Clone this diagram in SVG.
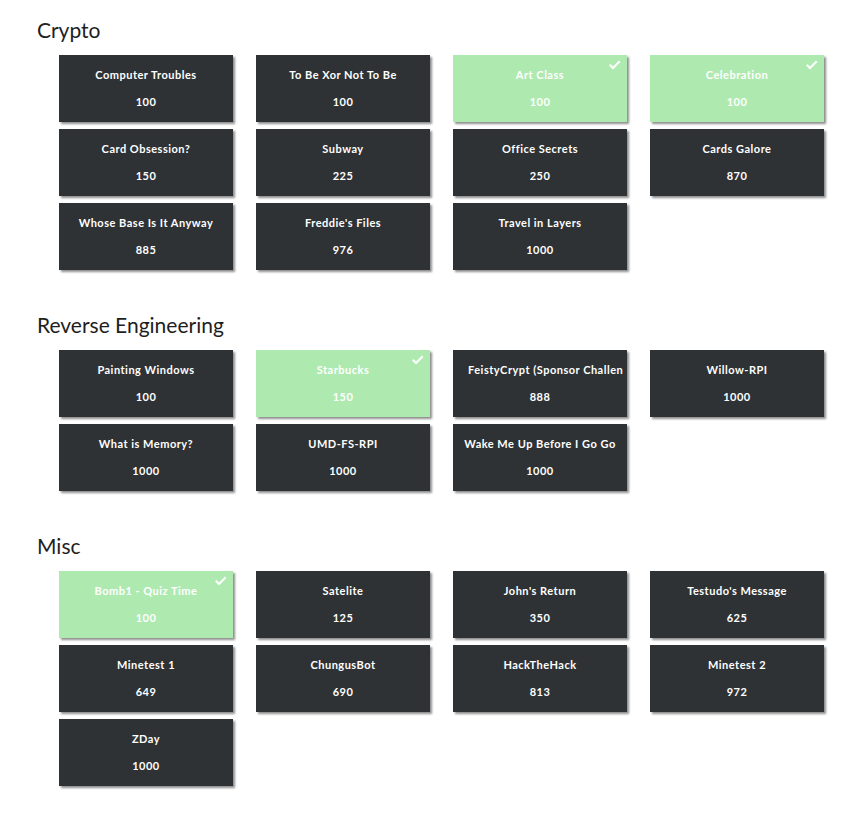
<svg xmlns="http://www.w3.org/2000/svg" width="863" height="815" viewBox="0 0 863 815">
<style>
.h{font-family:Lato,"Noto Sans","Liberation Sans",sans-serif;font-size:21px;fill:#1e1e1e;}
.t{font-family:Lato,"Noto Sans","Liberation Sans",sans-serif;font-weight:bold;font-size:11px;letter-spacing:0.5px;fill:#fff;text-anchor:middle;}
.tl{font-family:Lato,"Noto Sans","Liberation Sans",sans-serif;font-weight:bold;font-size:11px;letter-spacing:0.5px;fill:#fff;}
.d{fill:#2f3336;filter:url(#sh);}
.g{fill:#aeeab0;filter:url(#sh);}
.ck{fill:none;stroke:#fff;stroke-width:2;stroke-linecap:square;}
</style>
<defs>
<filter id="sh" x="-10%" y="-10%" width="125%" height="130%">
<feGaussianBlur in="SourceAlpha" stdDeviation="1.2"/>
<feOffset dx="2" dy="2" result="b"/>
<feComponentTransfer><feFuncA type="linear" slope="0.45"/></feComponentTransfer>
<feMerge><feMergeNode/><feMergeNode in="SourceGraphic"/></feMerge>
</filter>
<clipPath id="clipF"><rect x="453" y="350" width="174" height="67"/></clipPath>
</defs>
<rect width="863" height="815" fill="#fff"/>
<g id="connectors"></g>

<text class="h" x="37" y="38">Crypto</text>
<g id="c1"><rect class="d" x="59" y="55" width="174" height="67"/><text class="t" x="146" y="79">Computer Troubles</text><text class="t" x="146" y="106">100</text></g>
<g id="c2"><rect class="d" x="256" y="55" width="174" height="67"/><text class="t" x="343" y="79">To Be Xor Not To Be</text><text class="t" x="343" y="106">100</text></g>
<g id="c3"><rect class="g" x="453" y="55" width="174" height="67"/><text class="t" x="540" y="79">Art Class</text><text class="t" x="540" y="106">100</text><path class="ck" d="M610.5 65.5 L613 68 L619 62"/></g>
<g id="c4"><rect class="g" x="650" y="55" width="174" height="67"/><text class="t" x="737" y="79">Celebration</text><text class="t" x="737" y="106">100</text><path class="ck" d="M807.5 65.5 L810 68 L816 62"/></g>
<g id="c5"><rect class="d" x="59" y="129" width="174" height="67"/><text class="t" x="146" y="153">Card Obsession?</text><text class="t" x="146" y="180">150</text></g>
<g id="c6"><rect class="d" x="256" y="129" width="174" height="67"/><text class="t" x="343" y="153">Subway</text><text class="t" x="343" y="180">225</text></g>
<g id="c7"><rect class="d" x="453" y="129" width="174" height="67"/><text class="t" x="540" y="153">Office Secrets</text><text class="t" x="540" y="180">250</text></g>
<g id="c8"><rect class="d" x="650" y="129" width="174" height="67"/><text class="t" x="737" y="153">Cards Galore</text><text class="t" x="737" y="180">870</text></g>
<g id="c9"><rect class="d" x="59" y="203" width="174" height="67"/><text class="t" x="146" y="227">Whose Base Is It Anyway</text><text class="t" x="146" y="254">885</text></g>
<g id="c10"><rect class="d" x="256" y="203" width="174" height="67"/><text class="t" x="343" y="227">Freddie's Files</text><text class="t" x="343" y="254">976</text></g>
<g id="c11"><rect class="d" x="453" y="203" width="174" height="67"/><text class="t" x="540" y="227">Travel in Layers</text><text class="t" x="540" y="254">1000</text></g>

<text class="h" x="37" y="333">Reverse Engineering</text>
<g id="r1"><rect class="d" x="59" y="350" width="174" height="67"/><text class="t" x="146" y="374">Painting Windows</text><text class="t" x="146" y="401">100</text></g>
<g id="r2"><rect class="g" x="256" y="350" width="174" height="67"/><text class="t" x="343" y="374">Starbucks</text><text class="t" x="343" y="401">150</text><path class="ck" d="M413.5 360.5 L416 363 L422 357"/></g>
<g id="r3"><rect class="d" x="453" y="350" width="174" height="67"/><text class="tl" x="468" y="374" clip-path="url(#clipF)">FeistyCrypt (Sponsor Challen</text><text class="t" x="540" y="401">888</text></g>
<g id="r4"><rect class="d" x="650" y="350" width="174" height="67"/><text class="t" x="737" y="374">Willow-RPI</text><text class="t" x="737" y="401">1000</text></g>
<g id="r5"><rect class="d" x="59" y="424" width="174" height="67"/><text class="t" x="146" y="448">What is Memory?</text><text class="t" x="146" y="475">1000</text></g>
<g id="r6"><rect class="d" x="256" y="424" width="174" height="67"/><text class="t" x="343" y="448">UMD-FS-RPI</text><text class="t" x="343" y="475">1000</text></g>
<g id="r7"><rect class="d" x="453" y="424" width="174" height="67"/><text class="t" x="540" y="448">Wake Me Up Before I Go Go</text><text class="t" x="540" y="475">1000</text></g>

<text class="h" x="37" y="554">Misc</text>
<g id="m1"><rect class="g" x="59" y="571" width="174" height="67"/><text class="t" x="146" y="595">Bomb1 - Quiz Time</text><text class="t" x="146" y="622">100</text><path class="ck" d="M216.5 581.5 L219 584 L225 578"/></g>
<g id="m2"><rect class="d" x="256" y="571" width="174" height="67"/><text class="t" x="343" y="595">Satelite</text><text class="t" x="343" y="622">125</text></g>
<g id="m3"><rect class="d" x="453" y="571" width="174" height="67"/><text class="t" x="540" y="595">John's Return</text><text class="t" x="540" y="622">350</text></g>
<g id="m4"><rect class="d" x="650" y="571" width="174" height="67"/><text class="t" x="737" y="595">Testudo's Message</text><text class="t" x="737" y="622">625</text></g>
<g id="m5"><rect class="d" x="59" y="645" width="174" height="67"/><text class="t" x="146" y="669">Minetest 1</text><text class="t" x="146" y="696">649</text></g>
<g id="m6"><rect class="d" x="256" y="645" width="174" height="67"/><text class="t" x="343" y="669">ChungusBot</text><text class="t" x="343" y="696">690</text></g>
<g id="m7"><rect class="d" x="453" y="645" width="174" height="67"/><text class="t" x="540" y="669">HackTheHack</text><text class="t" x="540" y="696">813</text></g>
<g id="m8"><rect class="d" x="650" y="645" width="174" height="67"/><text class="t" x="737" y="669">Minetest 2</text><text class="t" x="737" y="696">972</text></g>
<g id="m9"><rect class="d" x="59" y="719" width="174" height="67"/><text class="t" x="146" y="743">ZDay</text><text class="t" x="146" y="770">1000</text></g>
</svg>
